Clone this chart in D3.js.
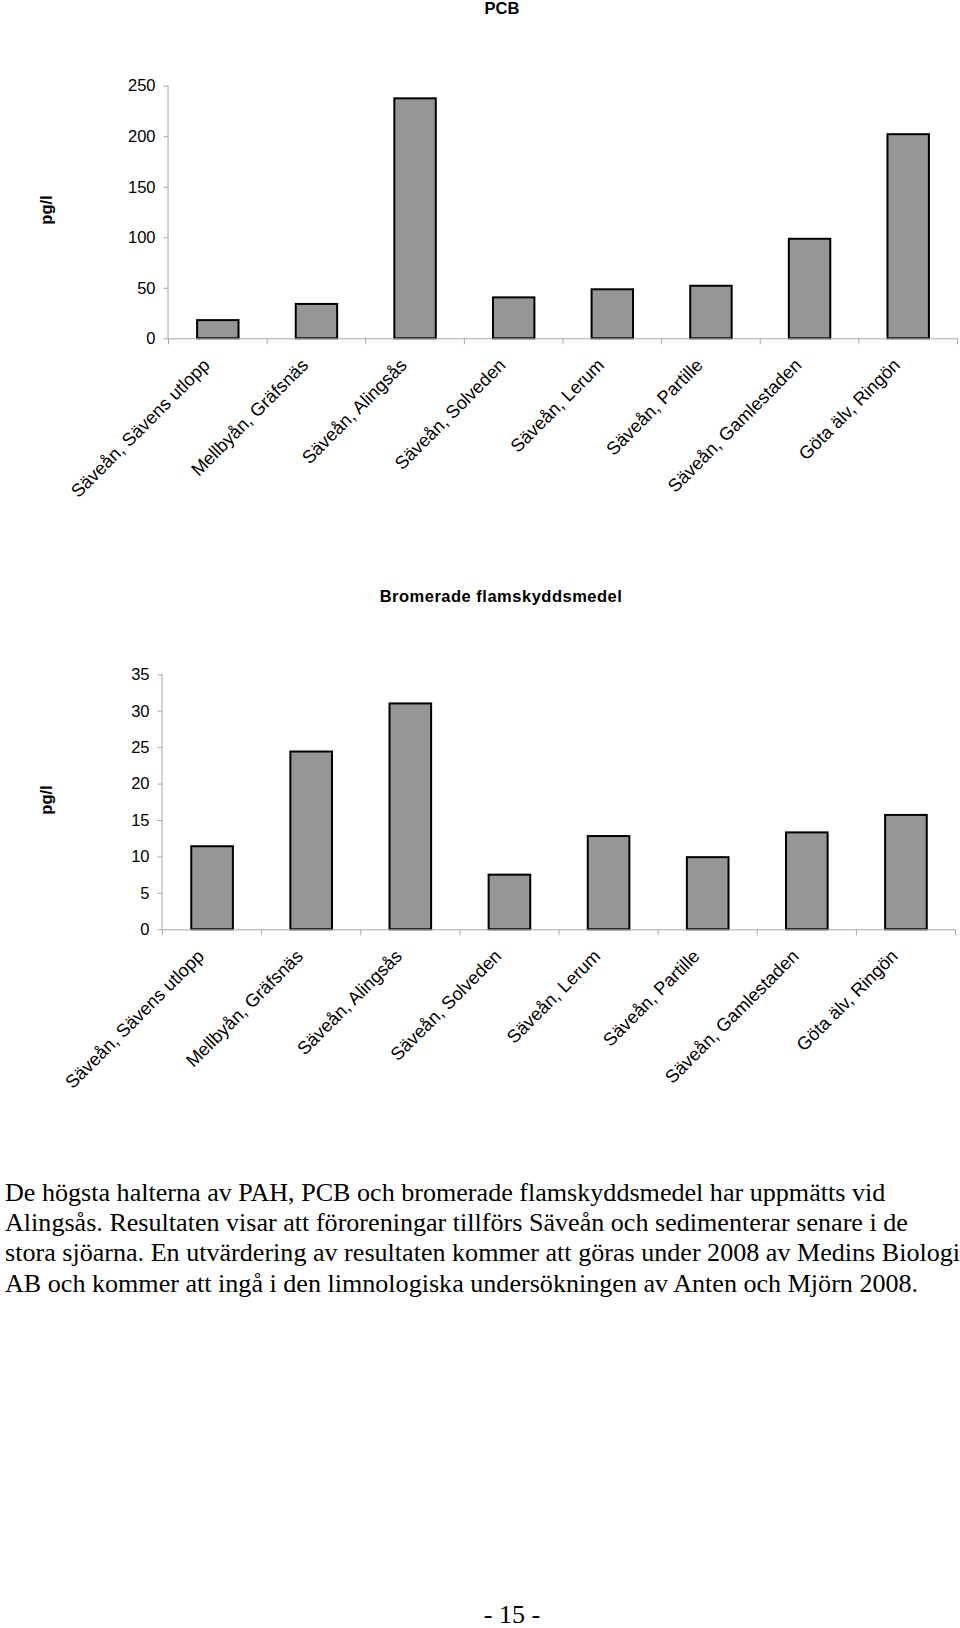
<!DOCTYPE html>
<html>
<head>
<meta charset="utf-8">
<script src="https://cdn.jsdelivr.net/npm/d3@7"></script>
<style>
  html, body { margin: 0; padding: 0; background: #fff; }
  svg { display: block; }
</style>
</head>
<body>
<script>
// ---- data ----
const categories = [
  "Säveån, Sävens utlopp",
  "Mellbyån, Gräfsnäs",
  "Säveån, Alingsås",
  "Säveån, Solveden",
  "Säveån, Lerum",
  "Säveån, Partille",
  "Säveån, Gamlestaden",
  "Göta älv, Ringön"
];
const pcbValues = [18, 34, 237.5, 40.5, 48.5, 52, 98.5, 202];
const pcbTicks = [0, 50, 100, 150, 200, 250];
const bromValues = [11.4, 24.4, 31, 7.5, 12.8, 9.9, 13.3, 15.7];
const bromTicks = [0, 5, 10, 15, 20, 25, 30, 35];
const chartTitles = ["PCB", "Bromerade flamskyddsmedel"];
const unitLabel = "pg/l";
const bodyLines = [
  "De högsta halterna av PAH, PCB och bromerade flamskyddsmedel har uppmätts vid",
  "Alingsås. Resultaten visar att föroreningar tillförs Säveån och sedimenterar senare i de",
  "stora sjöarna. En utvärdering av resultaten kommer att göras under 2008 av Medins Biologi",
  "AB och kommer att ingå i den limnologiska undersökningen av Anten och Mjörn 2008."
];
const pageNumber = "- 15 -";

// ---- drawing ----
const W = 960, H = 1628;
const sans = "'Liberation Sans', Arial, sans-serif";
const serif = "'Liberation Serif', 'Times New Roman', serif";
const axisColor = "#a8a8a8";

const svg = d3.select("body").append("svg")
  .attr("width", W).attr("height", H)
  .attr("viewBox", `0 0 ${W} ${H}`);

function drawChart(cfg) {
  const g = svg.append("g");
  const x = d3.scaleBand()
    .domain(categories)
    .range([cfg.x0, cfg.x1])
    .paddingInner(0.58)
    .paddingOuter(0.29);
  const y = d3.scaleLinear()
    .domain([0, d3.max(cfg.ticks)])
    .range([cfg.yBottom, cfg.yTop]);

  // title
  g.append("text")
    .attr("x", cfg.titleX).attr("y", cfg.titleY)
    .attr("text-anchor", "middle")
    .attr("font-family", sans).attr("font-weight", "bold")
    .attr("font-size", 16.5).attr("fill", "#000")
    .attr("letter-spacing", cfg.titleSpacing)
    .text(cfg.title);

  // unit label
  g.append("text")
    .attr("transform", `translate(${cfg.unitX},${cfg.unitY}) rotate(-90)`)
    .attr("text-anchor", "middle")
    .attr("dominant-baseline", "middle")
    .attr("font-family", sans).attr("font-weight", "bold")
    .attr("font-size", 16.5).attr("fill", "#000")
    .text(unitLabel);

  // y axis
  const yAxis = d3.axisLeft(y).tickValues(cfg.ticks).tickSize(5).tickPadding(8).tickFormat(d3.format("d"));
  const ya = g.append("g").attr("transform", `translate(${cfg.x0},0)`).call(yAxis);
  ya.select(".domain").attr("stroke", axisColor).attr("d", `M-0.5,${cfg.yTop}V${cfg.yBottom}`);
  ya.selectAll(".tick line").attr("stroke", axisColor);
  ya.selectAll(".tick text")
    .attr("font-family", sans).attr("font-size", 16.5).attr("fill", "#000");

  // bars
  g.selectAll("rect.bar").data(cfg.values).join("rect")
    .attr("class", "bar")
    .attr("x", (d, i) => x(categories[i]))
    .attr("width", x.bandwidth())
    .attr("y", d => y(d))
    .attr("height", d => y(0) - y(d))
    .attr("fill", "#969696")
    .attr("stroke", "#000")
    .attr("stroke-width", 2);

  // x axis line
  g.append("line")
    .attr("x1", cfg.x0).attr("x2", cfg.x1)
    .attr("y1", y(0) + 0.5).attr("y2", y(0) + 0.5)
    .attr("stroke", axisColor);
  // boundary ticks
  const step = x.step();
  const bounds = d3.range(categories.length + 1).map(i => cfg.x0 + i * step);
  g.selectAll("line.xt").data(bounds).join("line")
    .attr("class", "xt")
    .attr("x1", d => d).attr("x2", d => d)
    .attr("y1", y(0)).attr("y2", y(0) + 6)
    .attr("stroke", axisColor);

  // category labels
  g.selectAll("text.cat").data(categories).join("text")
    .attr("class", "cat")
    .attr("transform", d => `translate(${x(d) + x.bandwidth() / 2 - 7},${y(0) + 28}) rotate(-45)`)
    .attr("text-anchor", "end")
    .attr("font-family", sans).attr("font-size", 18.2).attr("fill", "#000")
    .text(d => d);
}

drawChart({
  title: chartTitles[0], titleX: 502, titleY: 14, titleSpacing: 0,
  unitX: 48, unitY: 210,
  values: pcbValues, ticks: pcbTicks,
  x0: 168.5, x1: 957.5, yTop: 85.7, yBottom: 338.3
});

drawChart({
  title: chartTitles[1], titleX: 501, titleY: 602, titleSpacing: 0.5,
  unitX: 48, unitY: 800,
  values: bromValues, ticks: bromTicks,
  x0: 162.5, x1: 955.5, yTop: 674.3, yBottom: 929.3
});

// body text
const body = svg.append("g");
body.selectAll("text").data(bodyLines).join("text")
  .attr("x", 5)
  .attr("y", (d, i) => 1201 + i * 30.2)
  .attr("font-family", serif).attr("font-size", 26.1).attr("fill", "#000")
  .text(d => d);

svg.append("text")
  .attr("x", 512).attr("y", 1623)
  .attr("text-anchor", "middle")
  .attr("font-family", serif).attr("font-size", 26.1).attr("fill", "#000")
  .text(pageNumber);
</script>
</body>
</html>
